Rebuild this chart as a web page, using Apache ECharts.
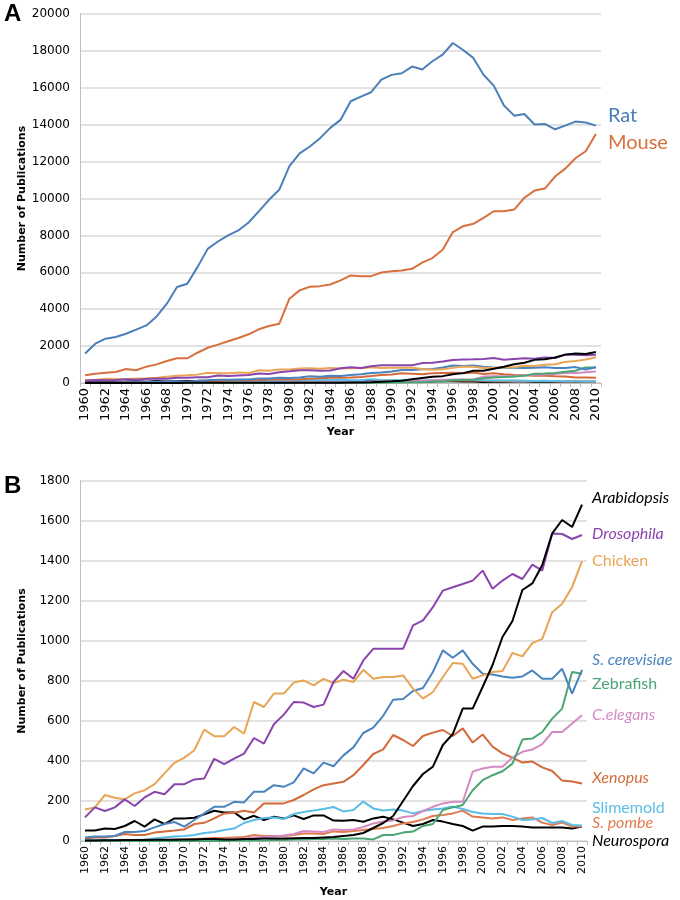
<!DOCTYPE html>
<html>
<head>
<meta charset="utf-8">
<script src="https://cdn.jsdelivr.net/npm/echarts@6/dist/echarts.min.js"></script>
<style>
html,body{margin:0;padding:0;background:#fff;}
#chart{width:680px;height:900px;}
</style>
</head>
<body>
<div id="chart"></div>
<script>
const years = [];
for (let y = 1960; y <= 2010; y++) years.push(String(y));

const yTicksA = [0, 20000, 2000];
const yTicksB = [0, 1800, 200];

const rat = [1600,2130,2400,2490,2670,2890,3120,3610,4300,5200,
  5380,6280,7270,7670,8000,8270,8700,9300,9930,10470,
  11750,12450,12820,13270,13830,14260,15270,15520,15760,16440,
  16700,16790,17150,16990,17440,17800,18430,18050,17620,16710,
  16120,15040,14490,14580,14010,14040,13750,13950,14170,14120,13950];
const mouse = [415,505,560,600,760,690,885,1010,1190,1340,
  1340,1640,1910,2080,2260,2440,2640,2910,3090,3210,
  4570,5020,5220,5250,5340,5560,5830,5790,5790,5990,
  6060,6100,6190,6520,6770,7220,8180,8500,8630,8950,
  9310,9310,9400,10040,10430,10540,11190,11620,12180,12560,13500];
const arabidopsis = [3,3,4,4,5,5,5,6,6,6,
  8,8,10,10,8,8,10,10,12,12,
  12,14,15,15,18,20,25,30,40,65,
  90,125,200,275,335,372,480,535,662,662,
  770,880,1020,1100,1255,1288,1380,1538,1605,1570,1682];
const drosophila = [118,168,150,168,208,175,218,246,234,284,
  284,308,313,411,384,412,437,515,487,584,
  632,695,692,670,682,795,850,811,903,961,
  961,961,961,1078,1103,1169,1252,1269,1285,1302,
  1352,1261,1302,1335,1310,1382,1352,1538,1535,1510,1530];
const chicken = [158,168,230,216,208,238,254,284,338,391,
  417,454,557,524,524,570,537,695,670,737,
  737,792,803,778,811,790,806,795,856,811,
  820,820,828,762,712,745,820,890,886,811,
  828,845,850,940,923,989,1011,1144,1186,1269,1399];
const scerevisiae = [18,22,22,25,45,45,50,68,85,95,
  72,105,138,171,171,196,193,246,246,279,
  271,293,363,338,392,374,428,468,540,567,
  626,706,710,750,765,845,953,916,953,886,
  836,833,823,816,823,853,811,811,861,737,856];
const zebrafish = [0,0,0,0,0,0,0,0,0,0,
  0,0,0,0,0,2,2,3,3,5,
  5,8,8,10,10,12,10,12,12,8,
  30,30,42,47,75,85,155,168,180,254,
  304,329,349,387,507,512,545,612,662,845,836];
const celegans = [0,0,0,0,0,0,0,0,2,3,
  3,5,5,5,8,10,12,18,20,22,
  28,35,50,48,45,58,55,58,70,88,
  97,103,120,125,150,171,188,196,196,346,
  363,371,371,417,446,457,484,545,545,587,629];
const xenopus = [13,18,18,25,35,30,30,42,47,52,
  58,85,91,113,138,141,151,143,188,188,
  188,205,230,258,279,288,296,329,380,435,
  458,530,505,475,525,542,555,525,563,492,
  533,472,438,417,392,397,368,350,302,297,288];
const slimemold = [5,5,5,5,5,5,8,12,18,22,
  25,30,40,45,55,62,90,105,115,118,
  110,135,145,152,160,170,148,155,197,163,
  152,158,152,138,150,158,162,172,160,145,
  138,135,135,122,105,108,115,90,100,80,78];
const spombe = [0,0,0,2,3,3,5,5,5,8,
  8,10,12,15,15,18,20,30,25,25,
  25,30,38,38,35,48,45,50,55,60,
  65,75,88,95,108,125,130,138,152,122,
  118,113,118,105,113,118,92,80,92,72,72];
const neurospora = [52,52,63,60,75,100,72,108,85,113,
  113,116,133,151,143,143,108,126,105,121,
  112,128,110,128,128,102,101,105,96,113,
  121,108,92,75,85,105,97,85,75,52,
  72,72,75,75,72,68,68,68,68,63,72];

// name, data, colour, italic label, label offset
const speciesB = [
  ['Neurospora', neurospora, '#000000', true, [2, 14]],
  ['S. pombe', spombe, '#e07a4f', true, [2, -4]],
  ['Slimemold', slimemold, '#5bbde6', false, [2, -18]],
  ['Xenopus', xenopus, '#d4693a', true, [2, -6]],
  ['C.elegans', celegans, '#d48bc4', true, [2, 0]],
  ['Zebrafish', zebrafish, '#4aa574', false, [2, 10]],
  ['S. cerevisiae', scerevisiae, '#4a84bf', true, [2, -10]],
  ['Chicken', chicken, '#e8a556', false, [2, 0]],
  ['Drosophila', drosophila, '#8a45ad', true, [2, -1]],
  ['Arabidopsis', arabidopsis, '#000000', true, [2, -7]]
];
const speciesA = [
  ['Rat', rat, '#4a7fb8', [4, -10]],
  ['Mouse', mouse, '#d8703d', [4, 9]]
];

const tickFont = 'DejaVu Sans';
const labelFont = 'Lato';

function xAxisFor(gridIndex, fs) {
  return {
    type: 'category', gridIndex, data: years, boundaryGap: true,
    name: 'Year', nameLocation: 'middle', nameGap: gridIndex === 0 ? 44 : 46,
    nameMoveOverlap: false,
    nameTextStyle: {fontFamily: tickFont, fontWeight: 'bold', fontSize: 11, color: '#000'},
    axisLine: {lineStyle: {color: '#bfbfbf', width: 1}},
    axisTick: {show: true, interval: 0, length: 4, lineStyle: {color: '#bfbfbf'}},
    axisLabel: {interval: 1, rotate: 90, fontFamily: tickFont, fontSize: fs, color: '#000', margin: 5},
    splitLine: {show: false}
  };
}
function yAxisFor(gridIndex, t) {
  return {
    type: 'value', gridIndex, min: t[0], max: t[1], interval: t[2],
    name: 'Number of Publications', nameLocation: 'middle', nameGap: 52,
    nameMoveOverlap: false,
    nameTextStyle: {fontFamily: tickFont, fontWeight: 'bold', fontSize: 11, color: '#000'},
    axisLine: {show: true, lineStyle: {color: '#bfbfbf'}},
    axisTick: {show: false},
    axisLabel: {fontFamily: tickFont, fontSize: 12, color: '#000', margin: 10,
      formatter: v => String(v)},
    splitLine: {lineStyle: {color: '#d9d9d9', width: 1.5}}
  };
}

const series = [];
speciesB.forEach(s => series.push({
  type: 'line', name: s[0] + ' A', xAxisIndex: 0, yAxisIndex: 0, data: s[1],
  showSymbol: false, lineStyle: {width: 2, color: s[2]}, itemStyle: {color: s[2]}
}));
speciesA.forEach(s => series.push({
  type: 'line', name: s[0], xAxisIndex: 0, yAxisIndex: 0, data: s[1],
  showSymbol: false, lineStyle: {width: 2, color: s[2]}, itemStyle: {color: s[2]},
  endLabel: {show: true, formatter: s[0], color: s[2], fontFamily: labelFont,
    fontSize: 20, offset: s[3]}
}));
speciesB.forEach(s => series.push({
  type: 'line', name: s[0], xAxisIndex: 1, yAxisIndex: 1, data: s[1],
  showSymbol: false, lineStyle: {width: 2, color: s[2]}, itemStyle: {color: s[2]},
  endLabel: {show: true, formatter: s[0], color: s[2], fontFamily: labelFont,
    fontStyle: s[3] ? 'italic' : 'normal', fontSize: 16, offset: s[4]}
}));

const chart = echarts.init(document.getElementById('chart'), null, {renderer: 'canvas'});
chart.setOption({
  animation: false,
  backgroundColor: '#fff',
  grid: [
    {left: 80, right: 79, top: 14, height: 369},
    {left: 80, right: 93, top: 481, height: 360}
  ],
  xAxis: [xAxisFor(0, 13), xAxisFor(1, 11)],
  yAxis: [yAxisFor(0, yTicksA), yAxisFor(1, yTicksB)],
  series,
  graphic: [
    {type: 'text', left: 4, top: 2, style: {text: 'A', fontFamily: 'Liberation Sans', fontWeight: 'bold', fontSize: 24, fill: '#000'}},
    {type: 'text', left: 4, top: 474, style: {text: 'B', fontFamily: 'Liberation Sans', fontWeight: 'bold', fontSize: 24, fill: '#000'}}
  ]
});
</script>
</body>
</html>
